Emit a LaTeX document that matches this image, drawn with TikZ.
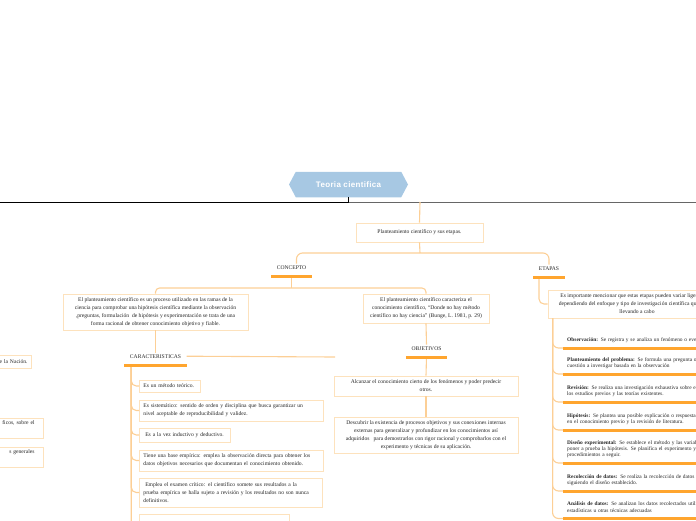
\documentclass[tikz,border=0pt]{standalone}
\usepackage{fontspec}
\setmainfont{Liberation Serif}
\newfontfamily\titlefont[LetterSpace=4]{Liberation Sans}
\usetikzlibrary{shapes.symbols}
\definecolor{boxc}{HTML}{FDE2BD}
\definecolor{connc}{HTML}{FCCF96}
\definecolor{ulc}{HTML}{FFA52E}
\definecolor{titlec}{HTML}{A7C8E3}
\definecolor{txtc}{HTML}{262626}
\newcommand\txt{\fontsize{5.6}{8}\selectfont}
\newcommand\txtsm{\fontsize{5.4}{6.2}\selectfont}
\tikzset{
  titulo/.style={shape=signal,signal to=west and east,signal pointer angle=124,fill=titlec,text=white,
    font=\titlefont\fontsize{8}{9}\selectfont\bfseries,minimum width=119pt,minimum height=25.5pt,inner sep=0pt},
  box/.style={draw=boxc,line width=0.9pt,fill=white,font=\txt,text=txtc,align=center,inner sep=0pt},
  kbox/.style={box,anchor=west,align=left,inner xsep=4pt},
  lbox/.style={box,anchor=east,align=right,text width=80pt},
  etiq/.style={font=\txt,text=txtc,anchor=base,inner xsep=5.5pt,inner ysep=1.5pt,text depth=5.5pt},
  item/.style={font=\txtsm,text=txtc,anchor=south west,align=left,inner xsep=4pt,inner ysep=0pt,text width=180pt},
  conn/.style={draw=connc,line width=1.1pt},
  uline/.style={draw=ulc,line width=3pt},
}
\begin{document}
\begin{tikzpicture}[x=1pt,y=-1pt]
\useasboundingbox (0,0) rectangle (696,520);
\clip (0,0) rectangle (696,520);
\node[titulo] (title) at (348.5,184.5) {Teoria cientifica};
\node[box,minimum width=127pt,minimum height=19pt] (plan) at (419.5,232.5) {Planteamiento científico y sus etapas.};
\node[etiq] (concepto) at (291.5,269) {CONCEPTO};
\node[etiq] (etapas) at (549,270) {ETAPAS};
\node[box,minimum width=185pt,minimum height=36pt] (c1) at (155.5,312)
  {El planteamiento científico es un proceso utilizado en las ramas de la\\
   ciencia para comprobar una hipótesis científica mediante la observación\\
   ,preguntas, formulación\ \ de hipótesis y experimentación se trata de una\\
   forma racional de obtener conocimiento objetivo y fiable.};
\node[box,minimum width=126pt,minimum height=29pt] (c2) at (426,308.5)
  {El planteamiento científico caracteriza el\\
   conocimiento científico, “Donde no hay método\\
   científico no hay ciencia” (Bunge, L. 1981, p. 29)};
\node[etiq] (carac) at (155.5,358.5) {CARACTERISTICAS};
\node[etiq] (objet) at (426.5,350) {OBJETIVOS};
\node[box,minimum width=184pt,minimum height=20pt] (o1) at (426,386)
  {Alcanzar el conocimiento cierto de los fenómenos y poder predecir\\ otros.};
\node[box,minimum width=184pt,minimum height=36pt] (o2) at (426,435)
  {Descubrir la existencia de procesos objetivos y sus conexiones internas\\
   externas para generalizar y profundizar en los conocimientos así\\
   adquiridos\ \ \ para demostrarlos con rigor racional y comprobarlos con el\\
   experimento y técnicas de su aplicación.};
\node[kbox,text width=53pt,minimum height=12pt] (k1) at (139,386) {Es un método teórico.};
\node[kbox,text width=176pt,minimum height=21pt] (k2) at (139,410.5)
  {Es sistemático: sentido de orden y disciplina que busca garantizar un\\
   nivel aceptable de reproducibilidad y validez.};
\node[kbox,text width=83pt,minimum height=14pt] (k3) at (139,435) {\ Es a la vez inductivo y deductivo.};
\node[kbox,text width=176pt,minimum height=21pt] (k4) at (139,460.5)
  {Tiene una base empírica: emplea la observación directa para obtener los\\
   datos objetivos necesarios que documentan el conocimiento obtenido.};
\node[kbox,text width=175pt,minimum height=29pt] (k5) at (139,492.5)
  {\ Emplea el examen crítico: el científico somete sus resultados a la\\
   prueba empírica se halla sujeto a revisión y los resultados no son nunca\\
   definitivos.};
\node[kbox,text width=142pt,minimum height=26pt] (k6) at (139,527) {};
\node[lbox,inner xsep=4pt,minimum height=13pt] (l1) at (32,361.5) {e la Nación.};
\node[lbox,inner xsep=9pt,minimum height=20pt] (l2) at (44,428) {ficos, sobre el\\\strut};
\node[lbox,inner xsep=9pt,minimum height=20pt] (l3) at (44,457) {s generales\\\strut};
\node[box,minimum width=178pt,minimum height=28pt] (eb) at (637,304)
  {Es importante mencionar que estas etapas pueden variar ligeramente\\
   dependiendo del enfoque y tipo de investigación científica que se esté\\
   llevando a cabo};
\node[item] (e1) at (563,348) {\textbf{Observación:} Se registra y se analiza un fenómeno o evento\\\mbox{}};
\node[item] (e2) at (563,374) {\textbf{Planteamiento del problema:} Se formula una pregunta o\\
  cuestión a investigar basada en la observación\\\mbox{}};
\node[item] (e3) at (563,402) {\textbf{Revisión:} Se realiza una investigación exhaustiva sobre el\\
  los estudios previos y las teorías existentes.\\\mbox{}};
\node[item] (e4) at (563,430) {\textbf{Hipótesis:} Se plantea una posible explicación o respuesta\\
  en el conocimiento previo y la revisión de literatura.\\\mbox{}};
\node[item] (e5) at (563,463) {\textbf{Diseño experimental:} Se establece el método y las variables\\
  poner a prueba la hipótesis. Se planifica el experimento y\\ procedimientos a seguir.\\\mbox{}};
\node[item] (e6) at (563,491) {\textbf{Recolección de datos:} Se realiza la recolección de datos en\\
  siguiendo el diseño establecido.\\\mbox{}};
\node[item] (e7) at (563,518.5) {\textbf{Análisis de datos:} Se analizan los datos recolectados utilizando\\
  estadísticas u otras técnicas adecuadas\\\mbox{}};
\coordinate (hl) at (0,202);
\coordinate (hm) at (348.5,202);
\coordinate (hr) at (696,202);
\coordinate (tline) at (420,202);
\coordinate (pjoin) at (420,253);
\coordinate (cjoin) at (291.5,288);
\coordinate (clink) at (335,357);
\draw[line width=0.9pt] (hl) -- (hm);
\draw[line width=0.9pt,black!60] (hm) -- (hr);
\draw[line width=0.6pt] (title.south) -- (hm);
\draw[conn] (tline) -- (plan.north);
\draw[conn] (plan.south) -- (pjoin);
\draw[conn,rounded corners=6pt] ([xshift=5pt]concepto.north) |- (pjoin) -| (etapas.north);
\draw[conn] (concepto.south) -- (cjoin);
\draw[conn,rounded corners=4pt] (c1.north) |- (cjoin) -| (c2.north);
\draw[conn] (c1.south) -- (carac.north);
\draw[conn] (carac.mid east) -- (clink);
\draw[conn] (c2.south) -- (objet.north);
\draw[conn] (objet.south) -- (o1.north);
\draw[conn] (o1.south) -- (o2.north);
\foreach \i in {1,...,6}
  \draw[conn,rounded corners=5pt] ([xshift=7pt]carac.south west) |- (k\i.west);
\draw[conn,rounded corners=5pt] ([xshift=-10pt]etapas.south) |- (eb.west);
\foreach \i in {1,...,7}
  \draw[conn,rounded corners=6pt] ([xshift=5pt]eb.south west) |- (e\i.south west);
\foreach \n in {concepto,etapas,carac,objet,e1,e2,e3,e4,e5,e6,e7}
  \draw[uline] (\n.south west) -- (\n.south east);
\end{tikzpicture}
\end{document}
